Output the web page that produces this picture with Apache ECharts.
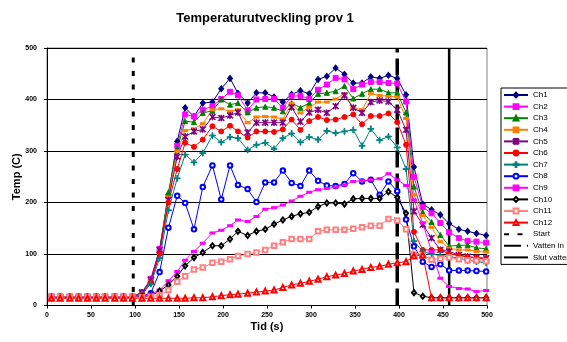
<!DOCTYPE html>
<html>
<head>
<meta charset="utf-8">
<script src="https://cdn.jsdelivr.net/npm/echarts@6/dist/echarts.min.js"></script>
<style>
  html, body { margin: 0; padding: 0; background: #fff; }
  #main { width: 567px; height: 342px; }
</style>
</head>
<body>
<div id="main"></div>
<script>
// tid (s) for each mätpunkt
const times = [5, 15, 26, 36, 46, 56, 66, 77, 87, 97,
  108, 118, 128, 138, 148, 157, 167, 177, 188, 198,
  208, 217, 228, 238, 248, 258, 268, 278, 288, 298,
  308, 318, 328, 338, 348, 358, 368, 378, 388, 398,
  408, 417, 427, 437, 447, 457, 468, 478, 488, 499];

const ch1 = [17, 17, 17, 17, 17, 17, 17, 17, 17, 17,
  24, 46, 105, 215, 319, 384, 367, 393, 395, 421,
  441, 412, 393, 413, 413, 405, 395, 410, 417, 411,
  439, 445, 461, 449, 432, 432, 444, 441, 447, 441,
  409, 269, 197, 186, 176, 159, 148, 144, 140, 136];
const ch2 = [17, 17, 17, 17, 17, 17, 17, 17, 17, 17,
  26, 52, 110, 212, 310, 371, 367, 380, 387, 401,
  415, 408, 379, 400, 401, 401, 384, 407, 407, 401,
  419, 429, 442, 439, 420, 429, 434, 434, 432, 431,
  396, 250, 191, 179, 160, 142, 131, 125, 124, 122];
const ch3 = [17, 17, 17, 17, 17, 17, 17, 17, 17, 17,
  24, 48, 108, 220, 305, 358, 356, 374, 378, 400,
  390, 393, 375, 384, 386, 384, 377, 393, 384, 393,
  411, 413, 416, 426, 402, 411, 420, 420, 413, 413,
  375, 231, 181, 162, 137, 115, 117, 117, 112, 110];
const ch4 = [17, 17, 17, 17, 17, 17, 17, 17, 17, 17,
  23, 46, 104, 210, 300, 340, 343, 353, 380, 382,
  377, 380, 355, 366, 367, 366, 362, 392, 374, 385,
  395, 395, 401, 411, 384, 380, 411, 408, 406, 405,
  363, 215, 175, 152, 124, 111, 108, 108, 105, 104];
const ch5 = [17, 17, 17, 17, 17, 17, 17, 17, 17, 17,
  25, 50, 108, 205, 289, 328, 338, 342, 366, 364,
  369, 375, 336, 355, 355, 355, 355, 385, 357, 375,
  380, 374, 387, 408, 384, 374, 395, 398, 396, 380,
  341, 183, 157, 131, 108, 105, 98, 95, 93, 92];
const ch6 = [17, 17, 17, 17, 17, 17, 17, 17, 17, 17,
  22, 44, 100, 200, 265, 316, 308, 322, 348, 338,
  349, 338, 326, 338, 338, 337, 342, 361, 341, 358,
  366, 360, 361, 366, 371, 352, 368, 368, 373, 356,
  312, 143, 108, 108, 108, 100, 97, 94, 92, 90];
const ch7 = [17, 17, 17, 17, 17, 17, 17, 17, 17, 17,
  22, 42, 92, 185, 247, 293, 278, 296, 330, 317,
  327, 325, 302, 312, 316, 304, 325, 334, 317, 327,
  322, 339, 335, 338, 341, 310, 343, 321, 328, 307,
  265, 125, 105, 100, 97, 95, 92, 88, 85, 83];
const ch8 = [17, 17, 17, 17, 17, 17, 17, 17, 17, 17,
  18, 24, 65, 151, 213, 199, 148, 230, 272, 206,
  272, 234, 226, 201, 239, 239, 262, 238, 232, 262,
  242, 233, 232, 236, 257, 241, 244, 215, 241, 222,
  167, 115, 85, 75, 80, 68, 68, 68, 67, 66];
const ch9 = [17, 17, 17, 17, 17, 17, 17, 17, 17, 17,
  18, 22, 30, 48, 66, 88, 105, 121, 141, 146,
  155, 166, 163, 173, 187, 190, 195, 203, 212, 220,
  225, 227, 230, 234, 241, 242, 244, 246, 256, 244,
  233, 205, 160, 105, 53, 37, 33, 32, 27, 29];
const ch10 = [17, 17, 17, 17, 17, 17, 17, 17, 17, 17,
  17, 19, 28, 40, 57, 77, 93, 103, 116, 116,
  129, 144, 136, 144, 148, 158, 166, 173, 178, 181,
  192, 199, 199, 197, 207, 208, 208, 208, 221, 210,
  179, 25, 18, 15, 15, 15, 15, 15, 15, 15];
const ch11 = [17, 17, 17, 17, 17, 17, 17, 17, 17, 17,
  16, 17, 20, 30, 46, 57, 70, 74, 83, 85,
  90, 96, 100, 103, 108, 116, 123, 129, 129, 129,
  144, 147, 147, 147, 149, 152, 155, 155, 168, 165,
  148, 99, 98, 89, 91, 93, 90, 88, 87, 86];
const ch12 = [14, 14, 14, 14, 14, 14, 14, 14, 14, 14,
  14, 14, 14, 14, 14, 14, 15, 15, 17, 19,
  21, 22, 24, 26, 28, 30, 35, 40, 43, 47,
  51, 56, 59, 62, 67, 70, 74, 76, 80, 83,
  85, 96, 98, 15, 15, 15, 15, 15, 15, 15];

const channelNames = ['Ch1', 'Ch2', 'Ch3', 'Ch4', 'Ch5', 'Ch6', 'Ch7', 'Ch8', 'Ch9', 'Ch10', 'Ch11', 'Ch12'];
const channelValues = [ch1, ch2, ch3, ch4, ch5, ch6, ch7, ch8, ch9, ch10, ch11, ch12];

// vertikala händelselinjer
const eventNames = ['Start', 'Vatten in', 'Slut vatten'];
const eventTimes = [98, 398, 457];
const yRange = [0, 500];

const FONT = 'Arial, "Liberation Sans", sans-serif';
const asterisk = 'path://M0,1 L1,0 L10,9 L9,10 Z M9,0 L10,1 L1,10 L0,9 Z M4.4,0 L5.6,0 L5.6,10 L4.4,10 Z';
const plus = 'path://M4.3,0 L5.7,0 L5.7,4.3 L10,4.3 L10,5.7 L5.7,5.7 L5.7,10 L4.3,10 L4.3,5.7 L0,5.7 L0,4.3 L4.3,4.3 Z';

const styles = [
  { color: '#000080', symbol: 'diamond', size: [5, 6] },
  { color: '#FF00FF', symbol: 'rect', size: 5 },
  { color: '#008000', symbol: 'triangle', size: 5 },
  { color: '#FF8000', symbol: 'rect', size: [4, 2] },
  { color: '#800080', symbol: asterisk, size: 6 },
  { color: '#FF0000', symbol: 'circle', size: 5 },
  { color: '#008080', symbol: plus, size: 6 },
  { color: '#0000FF', symbol: 'emptyCircle', size: 4.5 },
  { color: '#FF00FF', symbol: 'rect', size: [4, 2] },
  { color: '#000000', symbol: 'emptyDiamond', size: [4, 5] },
  { color: '#FF8080', symbol: 'emptyRect', size: 4.5 },
  { color: '#FF0000', symbol: 'emptyTriangle', size: 5 },
];
const eventStyles = [
  { type: [5, 8.5], width: 3 },
  { type: [17, 6], width: 3.5 },
  { type: 'solid', width: 2.5 },
];

const series = [];
channelNames.forEach((name, i) => {
  const st = styles[i];
  series.push({
    name: name,
    type: 'line',
    data: times.map((t, j) => [t, channelValues[i][j]]),
    symbol: st.symbol,
    symbolSize: st.size,
    symbolKeepAspect: true,
    showSymbol: true,
    lineStyle: { color: st.color, width: 1 },
    itemStyle: { color: st.color, borderColor: st.color, borderWidth: 1 },
    emphasis: { disabled: true },
  });
});
eventNames.forEach((name, i) => {
  series.push({
    name: name,
    type: 'line',
    data: [[eventTimes[i], yRange[0]], [eventTimes[i], yRange[1]]],
    symbol: 'circle',
    showSymbol: false,
    lineStyle: { color: '#000', width: eventStyles[i].width, type: eventStyles[i].type },
    itemStyle: { color: 'transparent', borderColor: 'transparent' },
    z: 1,
    emphasis: { disabled: true },
  });
});

const chart = echarts.init(document.getElementById('main'), null, { renderer: 'canvas' });
chart.setOption({
  animation: false,
  backgroundColor: '#fff',
  title: {
    text: 'Temperaturutveckling prov 1',
    left: 260,
    top: 7,
    textAlign: 'center',
    textStyle: { fontFamily: FONT, fontSize: 13, fontWeight: 'bold', color: '#000' },
  },
  grid: {
    left: 47, right: 80, top: 48, bottom: 36.5,
    containLabel: false,
    outerBoundsMode: 'none',
    show: true, borderColor: '#808080', borderWidth: 1, backgroundColor: 'transparent',
  },
  legend: {
    data: channelNames.concat(eventNames),
    orient: 'vertical',
    left: 501,
    top: 88,
    padding: [3, 10, 3, 2],
    itemWidth: 24,
    itemHeight: 6,
    itemGap: 3.6,
    borderColor: '#000',
    borderWidth: 1,
    textStyle: { fontFamily: FONT, fontSize: 8, color: '#000', lineHeight: 8 },
  },
  xAxis: {
    type: 'value',
    min: 0,
    max: 500,
    interval: 50,
    name: 'Tid (s)',
    nameLocation: 'middle',
    nameGap: 16,
    nameMoveOverlap: false,
    nameTextStyle: { fontFamily: FONT, fontSize: 11, fontWeight: 'bold', color: '#000' },
    axisLine: { lineStyle: { color: '#000', width: 1 } },
    axisTick: { show: true, inside: false, length: 3, lineStyle: { color: '#000' } },
    axisLabel: { fontFamily: FONT, fontSize: 7, fontWeight: 'bold', color: '#000', margin: 6 },
    splitLine: { show: false },
  },
  yAxis: {
    type: 'value',
    min: yRange[0],
    max: yRange[1],
    interval: 100,
    name: 'Temp (C)',
    nameLocation: 'middle',
    nameGap: 25,
    nameMoveOverlap: false,
    nameTextStyle: { fontFamily: FONT, fontSize: 11, fontWeight: 'bold', color: '#000' },
    axisLine: { show: true, lineStyle: { color: '#000', width: 1 } },
    axisTick: { show: true, inside: false, length: 3, lineStyle: { color: '#000' } },
    axisLabel: { fontFamily: FONT, fontSize: 7, fontWeight: 'bold', color: '#000', margin: 10 },
    splitLine: { show: true, lineStyle: { color: '#000', width: 1 } },
  },
  series: series,
});
</script>
</body>
</html>
